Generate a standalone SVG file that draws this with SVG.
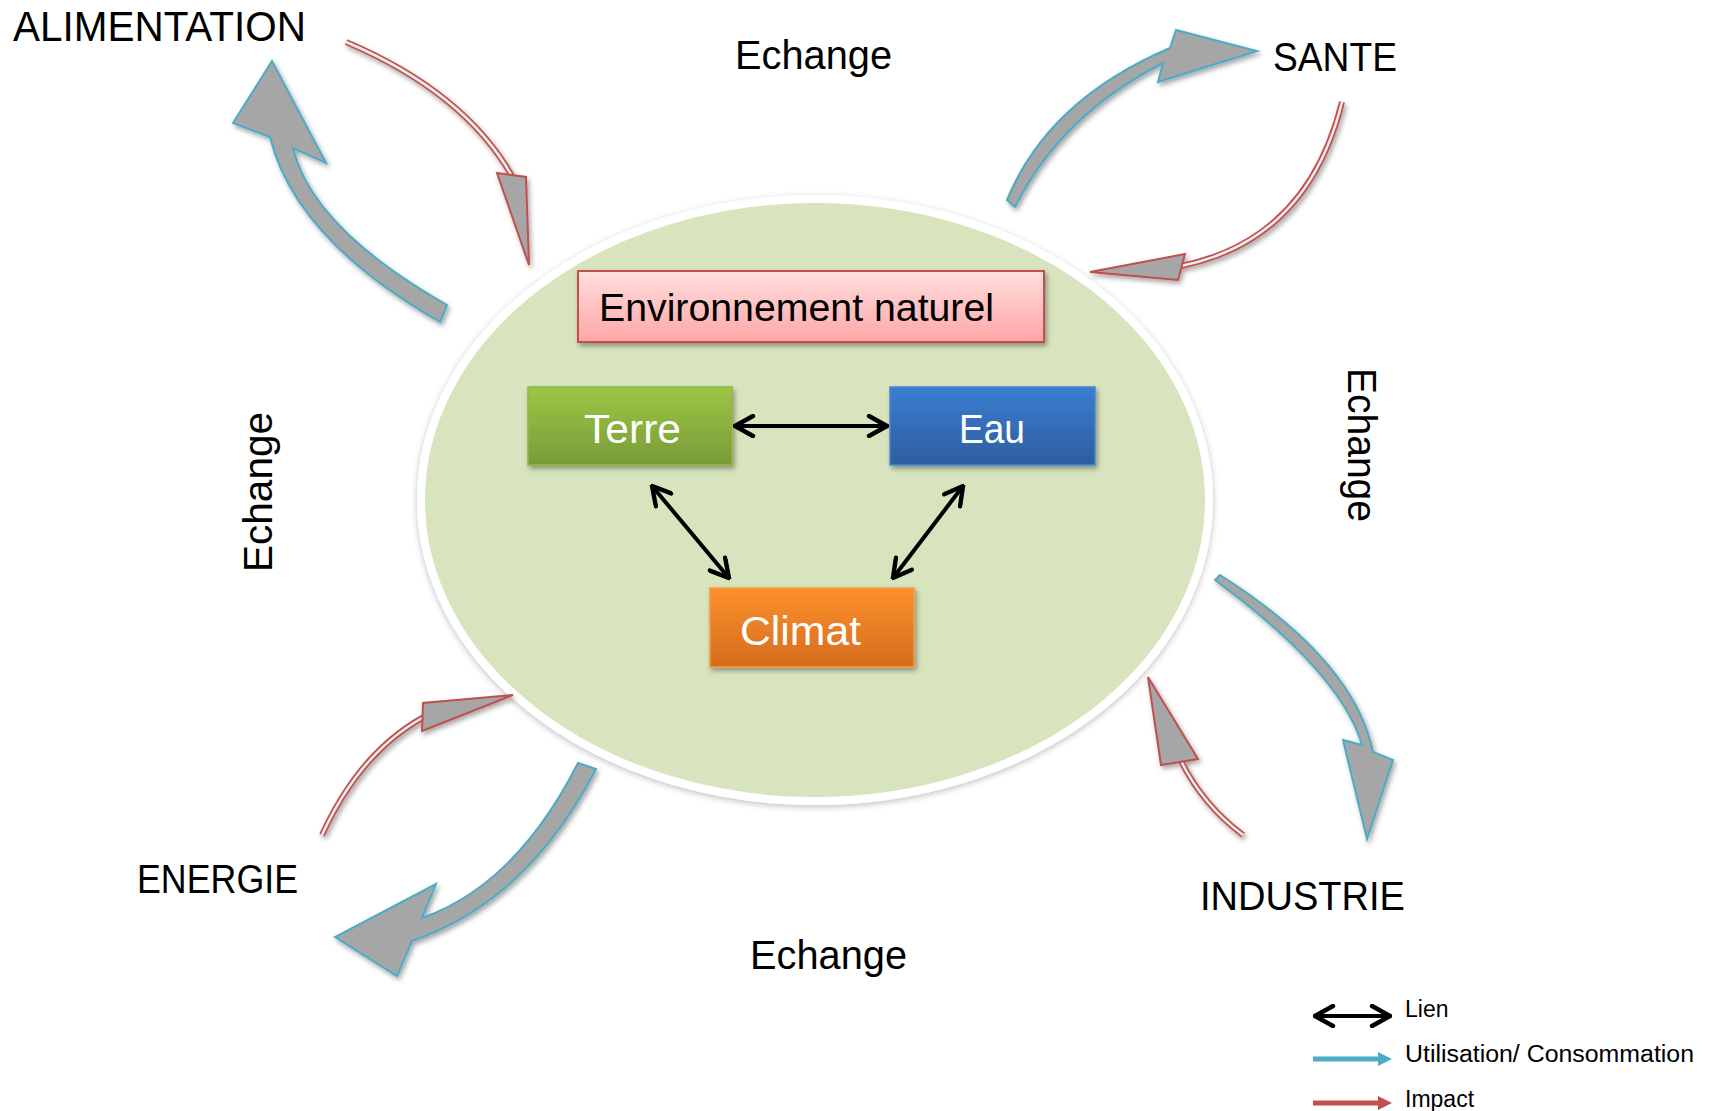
<svg xmlns="http://www.w3.org/2000/svg" width="1716" height="1111" viewBox="0 0 1716 1111">
<defs>
<style>
text{font-family:"Liberation Sans",Arial,sans-serif;fill:#000;}
.lbl{font-size:41px;}
.box{font-size:38px;}
.wt{fill:#fff;font-size:41px;}
.leg{font-size:23px;}
.big{fill:#a6a6a6;stroke:#4bacc6;stroke-width:2;filter:url(#sh);}
.rshaft{fill:none;stroke:#c0504d;stroke-width:6;stroke-linecap:butt;}
.rin{fill:none;stroke:#ececec;stroke-width:2.5;}
.rhead{fill:#a6a6a6;stroke:#c0504d;stroke-width:2;stroke-linejoin:miter;}
.lien{stroke:#000;stroke-width:4;fill:none;marker-start:url(#chev);marker-end:url(#chev);}
</style>
<filter id="sh" x="-20%" y="-20%" width="140%" height="140%"><feDropShadow dx="2" dy="3" stdDeviation="2.5" flood-color="#000" flood-opacity="0.35"/></filter>
<filter id="esh" x="-10%" y="-10%" width="120%" height="120%"><feDropShadow dx="0" dy="2" stdDeviation="3" flood-color="#000" flood-opacity="0.25"/></filter>
<marker id="chev" viewBox="0 0 12 12" refX="11" refY="6" markerWidth="6" markerHeight="6" orient="auto-start-reverse" markerUnits="strokeWidth"><path d="M2,1 L11,6 L2,11" fill="none" stroke="#000" stroke-width="2.2" stroke-linecap="round"/></marker>
<linearGradient id="gEnv" x1="0" y1="0" x2="0" y2="1"><stop offset="0" stop-color="#ffdede"/><stop offset="1" stop-color="#ffa6a6"/></linearGradient>
<linearGradient id="gTer" x1="0" y1="0" x2="0" y2="1"><stop offset="0" stop-color="#9dc645"/><stop offset="1" stop-color="#789b38"/></linearGradient>
<linearGradient id="gEau" x1="0" y1="0" x2="0" y2="1"><stop offset="0" stop-color="#3b7dd0"/><stop offset="1" stop-color="#2d5e9f"/></linearGradient>
<linearGradient id="gCli" x1="0" y1="0" x2="0" y2="1"><stop offset="0" stop-color="#fd902c"/><stop offset="1" stop-color="#d46d1e"/></linearGradient>
</defs>

<g id="ellipse">
<ellipse cx="815" cy="500" rx="394" ry="301" fill="#d7e4bd" stroke="#ffffff" stroke-width="8" filter="url(#esh)"/>
</g>

<g id="node-env">
<rect x="578" y="271" width="466" height="71" fill="url(#gEnv)" stroke="#c0504d" stroke-width="2" filter="url(#sh)"/>
<text class="box" x="599" y="321" textLength="395" lengthAdjust="spacingAndGlyphs">Environnement naturel</text>
</g>
<g id="node-terre">
<rect x="528" y="387" width="204" height="78" fill="url(#gTer)" stroke="#8fb846" stroke-width="1.5" filter="url(#sh)"/>
<text class="wt" x="584" y="443" textLength="97" lengthAdjust="spacingAndGlyphs">Terre</text>
</g>
<g id="node-eau">
<rect x="890" y="387" width="205" height="78" fill="url(#gEau)" stroke="#4a86d4" stroke-width="1.5" filter="url(#sh)"/>
<text class="wt" x="959" y="443" textLength="66" lengthAdjust="spacingAndGlyphs">Eau</text>
</g>
<g id="node-climat">
<rect x="710" y="588" width="204" height="79" fill="url(#gCli)" stroke="#f59a45" stroke-width="1.5" filter="url(#sh)"/>
<text class="wt" x="740" y="645" textLength="121" lengthAdjust="spacingAndGlyphs">Climat</text>
</g>

<g id="labels">
<text class="lbl" x="13" y="41" style="font-size:42px" textLength="293" lengthAdjust="spacingAndGlyphs">ALIMENTATION</text>
<text class="lbl" x="1273" y="71" textLength="124" lengthAdjust="spacingAndGlyphs">SANTE</text>
<text class="lbl" x="137" y="893" textLength="161" lengthAdjust="spacingAndGlyphs">ENERGIE</text>
<text class="lbl" x="1200" y="910" textLength="205" lengthAdjust="spacingAndGlyphs">INDUSTRIE</text>
<text class="lbl" x="735" y="69" textLength="157" lengthAdjust="spacingAndGlyphs">Echange</text>
<text class="lbl" x="750" y="969" textLength="157" lengthAdjust="spacingAndGlyphs">Echange</text>
<text class="lbl" transform="translate(272,572) rotate(-90)" x="0" y="0" textLength="160" lengthAdjust="spacingAndGlyphs">Echange</text>
<text class="lbl" transform="translate(1348,368) rotate(90)" x="0" y="0" textLength="154" lengthAdjust="spacingAndGlyphs">Echange</text>
</g>

<g id="connectors">
<!-- blue block arrows (Utilisation/Consommation) -->
<path class="big" d="M447,305 L440,322 Q295,239 270,137 L233,123 L272,61 L326,163 L293,148 Q312,228 447,305 Z"/>
<path class="big" d="M1015,207 L1007,200 Q1048,100 1170,48 L1176,30 L1257,51 L1158,82 L1163,63 Q1061,115 1015,207 Z"/>
<path class="big" d="M578,763 L596,769 Q528,901 412,941 L397,976 L335,937 L436,884 L422,918 Q516,885 578,763 Z"/>
<path class="big" d="M1215,580 L1220,575 Q1354,660 1373,752 L1393,760 L1367,839 L1343,740 L1362,745 Q1341,673 1215,580 Z"/>

<!-- red impact arrows -->
<g filter="url(#sh)">
<path class="rshaft" d="M346,42 Q464,92 512,176"/>
<path class="rin" d="M346,42 Q464,92 512,176"/>
<polygon class="rhead" points="497,173 526,177 529,265"/>
</g>
<g filter="url(#sh)">
<path class="rshaft" d="M1342,102 Q1308,240 1181,266"/>
<path class="rin" d="M1342,102 Q1308,240 1181,266"/>
<polygon class="rhead" points="1185,254 1178,280 1090,272"/>
</g>
<g filter="url(#sh)">
<path class="rshaft" d="M322,835 Q360,752 424,717"/>
<path class="rin" d="M322,835 Q360,752 424,717"/>
<polygon class="rhead" points="423,703 422,731 513,695"/>
</g>
<g filter="url(#sh)">
<path class="rshaft" d="M1243,835 Q1203,805 1181,761"/>
<path class="rin" d="M1243,835 Q1203,805 1181,761"/>
<polygon class="rhead" points="1198,759 1161,765 1148,677"/>
</g>

<!-- lien arrows between nodes -->
<line class="lien" x1="735" y1="426" x2="887" y2="426"/>
<line class="lien" x1="652" y1="486" x2="729" y2="578"/>
<line class="lien" x1="963" y1="486" x2="893" y2="578"/>
</g>

<g id="legend">
<line class="lien" x1="1315" y1="1016" x2="1390" y2="1016"/>
<text class="leg" x="1405" y="1017">Lien</text>
<line x1="1313" y1="1059" x2="1380" y2="1059" stroke="#4bacc6" stroke-width="5"/>
<polygon points="1378,1052 1392,1059 1378,1066" fill="#4bacc6"/>
<text class="leg" x="1405" y="1062" textLength="289" lengthAdjust="spacingAndGlyphs">Utilisation/ Consommation</text>
<line x1="1313" y1="1103" x2="1380" y2="1103" stroke="#c0504d" stroke-width="5"/>
<polygon points="1378,1096 1392,1103 1378,1110" fill="#c0504d"/>
<text class="leg" x="1405" y="1107">Impact</text>
</g>
</svg>
